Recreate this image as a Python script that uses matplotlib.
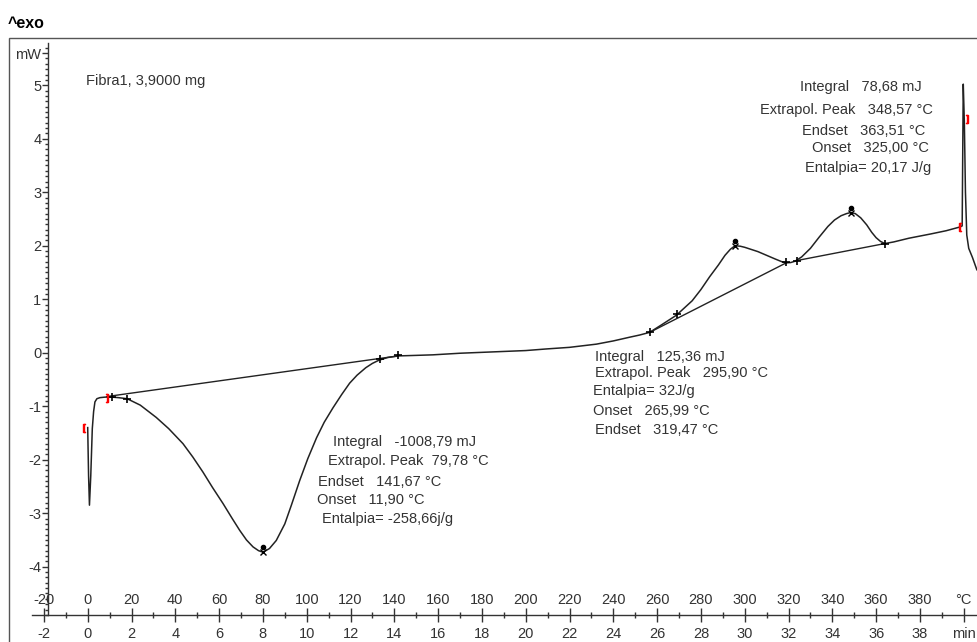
import matplotlib.pyplot as plt
from matplotlib.patches import Rectangle
import numpy as np

plt.rcParams['font.family'] = ['Liberation Sans', 'DejaVu Sans']
plt.rcParams['axes.unicode_minus'] = False

# DSC curve: temperature (°C) and heat flow (mW)
temp = [0.0, 0.4, 0.8, 1.4, 2.1, 2.7, 3.3, 4.2, 5.6, 8.0, 11.0, 14.0, 18.0,
        24.0, 31.3, 37.0, 43.5, 48.0, 52.6, 57.0, 61.8, 66.0, 69.4, 72.5, 75.5, 78.0, 80.1,
        83.0, 86.1, 90.0, 93.0, 96.8, 100.5, 104.5, 108.0, 112.0, 116.0, 119.6, 123.0, 127.0,
        130.0, 133.0, 137.0, 142.0, 150.0, 157.6, 170.0, 188.0, 200.0, 209.4, 220.0, 232.3, 240.0,
        247.5, 252.0, 256.6, 262.0, 268.8, 272.0, 276.0, 280.0, 284.0, 288.0, 291.0, 293.5,
        295.6, 298.0, 300.0, 303.0, 306.0, 310.0, 314.0, 317.0, 319.0, 321.0, 323.0, 326.0,
        330.0, 334.0, 338.0, 341.0, 344.0, 346.5, 348.4, 350.5, 353.0, 355.7, 358.0, 360.0,
        362.0, 364.0, 368.0, 375.0, 385.0,
        392.0, 398.3, 399.3, 399.8, 400.3, 400.8, 401.4, 402.3, 404.0, 406.0]
heat_flow = [-1.40, -2.30, -2.85, -2.30, -1.42, -1.10, -0.92, -0.86, -0.84, -0.83, -0.83, -0.84, -0.86,
             -0.98, -1.21, -1.42, -1.70, -1.95, -2.23, -2.52, -2.82, -3.10, -3.32, -3.50, -3.63, -3.70, -3.73,
             -3.66, -3.51, -3.20, -2.85, -2.39, -1.98, -1.59, -1.30, -1.03, -0.78, -0.57, -0.42, -0.28,
             -0.20, -0.14, -0.09, -0.06, -0.05, -0.04, -0.01, 0.02, 0.04, 0.07, 0.10, 0.16, 0.22,
             0.29, 0.33, 0.38, 0.52, 0.70, 0.82, 0.97, 1.18, 1.42, 1.64, 1.82, 1.935,
             2.00, 1.99, 1.97, 1.93, 1.89, 1.82, 1.75, 1.70, 1.68, 1.685, 1.71, 1.79,
             1.95, 2.16, 2.36, 2.48, 2.56, 2.60, 2.62, 2.60, 2.52, 2.39, 2.25, 2.15,
             2.08, 2.04, 2.07, 2.14, 2.22,
             2.28, 2.35, 2.37, 5.02, 4.30, 3.00, 2.20, 1.95, 1.78, 1.55]

# integration baselines
base1_t = [8.7, 141.7]
base1_mw = [-0.82, -0.06]
base2_t = [256.6, 319.0]
base2_mw = [0.38, 1.68]
base3_t = [323.5, 364.0]
base3_mw = [1.72, 2.04]

# evaluation limits and peaks
limit_t = [11.0, 18.0, 133.5, 141.7, 256.6, 269.0, 319.0, 324.0, 364.0]
limit_mw = [-0.83, -0.86, -0.12, -0.05, 0.38, 0.72, 1.70, 1.72, 2.04]
peak_t = [80.1, 295.6, 348.4]
peak_mw = [-3.73, 2.00, 2.62]
open_t = [-1.7, 398.3]
open_mw = [-1.41, 2.35]
close_t = [8.8, 401.5]
close_mw = [-0.85, 4.36]

results1 = ['Integral   -1008,79 mJ', 'Extrapol. Peak  79,78 °C', 'Endset   141,67 °C',
            'Onset   11,90 °C', 'Entalpia= -258,66j/g']
results2 = ['Integral   125,36 mJ', 'Extrapol. Peak   295,90 °C', 'Entalpia= 32J/g',
            'Onset   265,99 °C', 'Endset   319,47 °C']
results3 = ['Integral   78,68 mJ', 'Extrapol. Peak   348,57 °C', 'Endset   363,51 °C',
            'Onset   325,00 °C', 'Entalpia= 20,17 J/g']

celsius_ticks = list(range(-20, 420, 20))
celsius_labels = [str(v) for v in range(-20, 400, 20)] + ['°C']
minute_ticks = list(range(-2, 42, 2))
minute_labels = [str(v) for v in range(-2, 40, 2)] + ['min']
mw_ticks = [-4, -3, -2, -1, 0, 1, 2, 3, 4, 5, 5.6]
mw_labels = ['-4', '-3', '-2', '-1', '0', '1', '2', '3', '4', '5', 'mW']

ink = '#333333'
fig = plt.figure(figsize=(9.77, 6.42), dpi=100)
# axes runs past the right and bottom edges, like the clipped instrument window
ax = fig.add_axes([9 / 977, 1 - 660 / 642, 991 / 977, 622 / 642])
x0, x1 = (9 - 87.7) / 2.19, (1000 - 87.7) / 2.19
y0, y1 = (352.7 - 660) / 53.5, (352.7 - 38) / 53.5
ax.set_xlim(x0, x1)
ax.set_ylim(y0, y1)

ax.plot(temp, heat_flow, color='#222222', lw=1.1)
ax.plot(base1_t, base1_mw, color='#222222', lw=1.0)
ax.plot(base2_t, base2_mw, color='#222222', lw=1.0)
ax.plot(base3_t, base3_mw, color='#222222', lw=1.0)
ax.plot(limit_t, limit_mw, ls='none', marker='+', ms=6, mew=1.2, color='black')
ax.plot(peak_t, peak_mw, ls='none', marker='x', ms=5, mew=1.0, color='black')
ax.plot(peak_t, [v + 0.09 for v in peak_mw], ls='none', marker='o', ms=3, color='black')
ax.plot(open_t, open_mw, ls='none', marker='$[$', ms=6, color='red')
ax.plot(close_t, close_mw, ls='none', marker='$]$', ms=6, color='red')

# frame of the plot window
ax.add_patch(Rectangle((0, 0), 1, 1, transform=ax.transAxes, fill=False,
                       ec='#555555', lw=1.0, clip_on=False))

# axis lines inside the window
axis_y = -4.9
ax.spines['right'].set_visible(False)
ax.spines['bottom'].set_visible(False)
ax.spines['left'].set_position(('data', -18.0))
ax.spines['left'].set_bounds(axis_y, 5.79)
ax.spines['top'].set_position(('data', axis_y))
ax.spines['top'].set_bounds(-25.4, x1)
for s in ['left', 'top']:
    ax.spines[s].set_color(ink)
    ax.spines[s].set_linewidth(1.0)

ax.xaxis.set_ticks_position('top')
ax.set_xticks(celsius_ticks, labels=celsius_labels)
ax.set_xticks(list(range(-10, 420, 20)), minor=True)
ax.tick_params(axis='x', which='major', direction='inout', length=10, width=1.0,
               colors=ink, labelsize=10.5, pad=1)
ax.tick_params(axis='x', which='minor', direction='inout', length=5, width=1.0, colors=ink)

ax.set_yticks(mw_ticks, labels=mw_labels)
ax.set_yticks(np.arange(-4.9, 5.75, 0.1), minor=True)
ax.tick_params(axis='y', which='major', direction='out', length=4, width=1.0,
               colors=ink, labelsize=10.5, pad=1)
ax.tick_params(axis='y', which='minor', direction='out', length=2.5, width=1.0, colors=ink)

loc = (axis_y - y0) / (y1 - y0)
sec = ax.secondary_xaxis(loc, functions=(lambda t: t / 10, lambda m: m * 10))
sec.set_xticks(minute_ticks, labels=minute_labels)
sec.tick_params(axis='x', length=0, pad=9, colors=ink, labelsize=10.5)
for s in sec.spines.values():
    s.set_visible(False)

txt = dict(fontsize=10.5, color=ink, ha='left', va='center')
ax.text(-0.78, 5.08, 'Fibra1, 3,9000 mg', **txt)
for s, (x, y) in zip(results1, [(112.1, -1.664), (109.9, -2.024), (105.3, -2.411),
                                (104.6, -2.753), (106.8, -3.108)]):
    ax.text(x, y, s, **txt)
for s, (x, y) in zip(results2, [(231.6, -0.075), (231.6, -0.374), (230.9, -0.710),
                                (230.9, -1.084), (231.6, -1.445)]):
    ax.text(x, y, s, **txt)
for s, (x, y) in zip(results3, [(325.3, 4.972), (307.0, 4.536), (326.0, 4.144),
                                (330.6, 3.821), (327.6, 3.447)]):
    ax.text(x, y, s, **txt)

fig.text(8 / 977, 1 - 23 / 642, '^exo', fontsize=11.5, fontweight='bold',
         color='black', ha='left', va='center')

fig.savefig('out.png', dpi=100)
